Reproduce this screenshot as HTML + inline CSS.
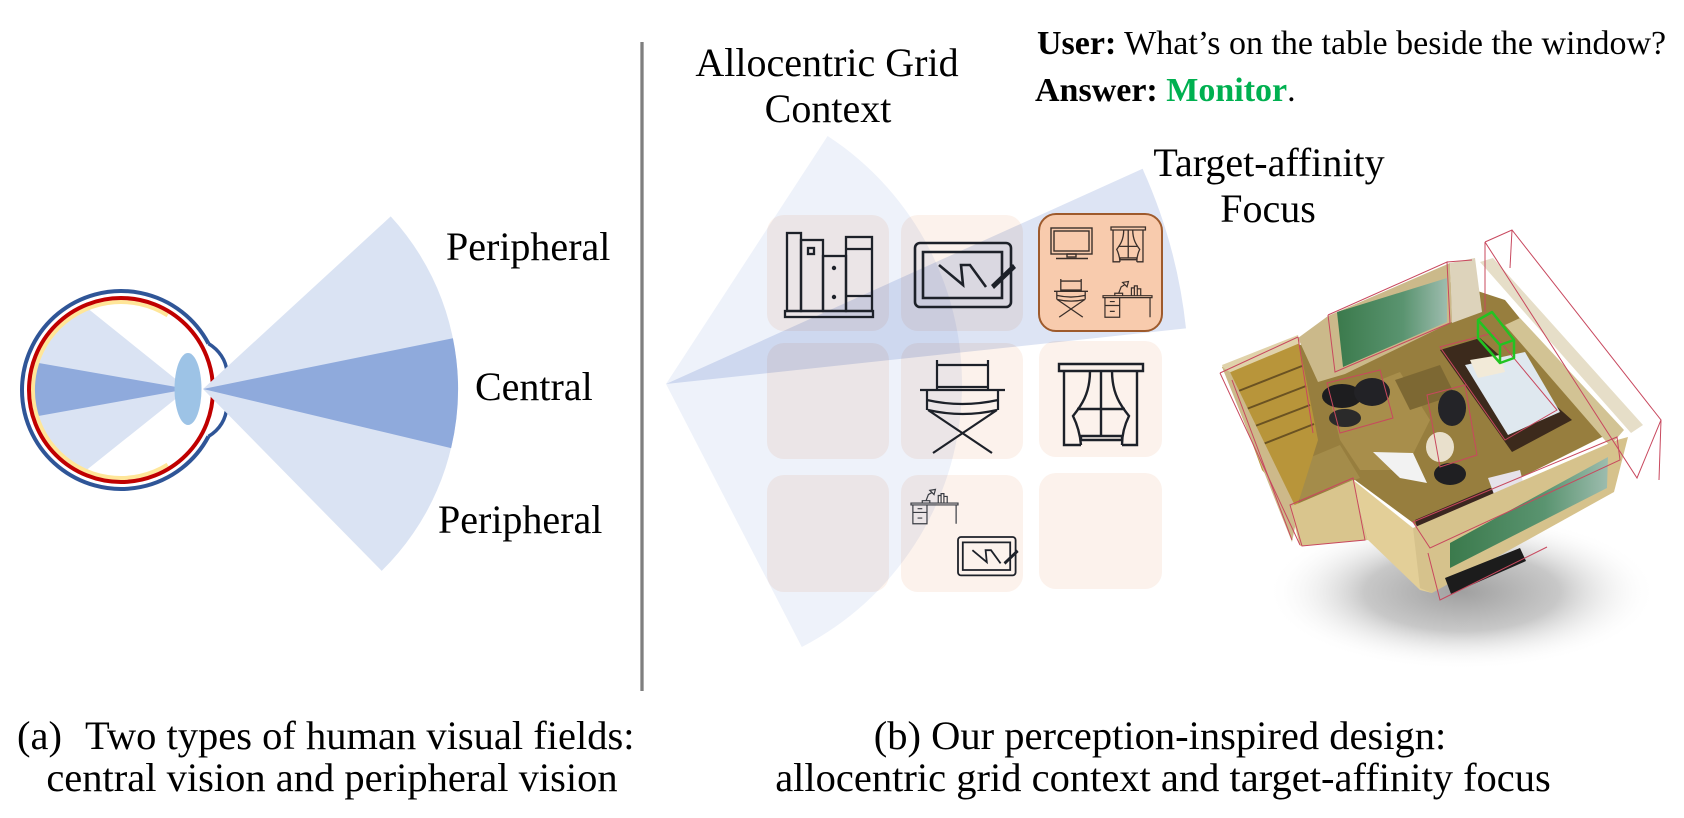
<!DOCTYPE html>
<html><head><meta charset="utf-8"><style>
html,body{margin:0;padding:0;background:#fff;width:1684px;height:818px;overflow:hidden}
svg{display:block}
.mul{mix-blend-mode:multiply}
</style></head><body>
<svg width="1684" height="818" viewBox="0 0 1684 818" xmlns="http://www.w3.org/2000/svg" font-family="'Liberation Serif', 'Times New Roman', serif">
<defs>
  <radialGradient id="sh" cx="0.5" cy="0.5" r="0.5">
    <stop offset="0" stop-color="#a0a0a0"/>
    <stop offset="0.5" stop-color="#c8c8c8"/>
    <stop offset="1" stop-color="#ffffff" stop-opacity="0"/>
  </radialGradient>
  <linearGradient id="gb" x1="0" y1="0" x2="1" y2="0">
    <stop offset="0" stop-color="#3b7a4c"/>
    <stop offset="0.6" stop-color="#5a9470"/>
    <stop offset="1" stop-color="#9dbcae"/>
  </linearGradient>
  <g id="tab">
    <rect x="0" y="0" width="96" height="64" rx="5" vector-effect="non-scaling-stroke"/>
    <rect x="8" y="9" width="79" height="46" vector-effect="non-scaling-stroke"/>
    <polyline points="24,22 48,42 46,22 55,22 71,44" vector-effect="non-scaling-stroke"/>
    <polygon points="76,42 98,21 101,25 79,46" fill="#1d2129" stroke="none"/>
  </g>
  <g id="win">
    <rect x="0" y="0" width="84" height="7" vector-effect="non-scaling-stroke"/>
    <path d="M5,7 V81 H22 M78,7 V81 H63 M42,7 V72 M22,72 H63 V76 H22 Z M18,45 H66" vector-effect="non-scaling-stroke"/>
    <path d="M31,7 C31,30 22,42 14,52 C18,60 21,70 22,81" vector-effect="non-scaling-stroke"/>
    <path d="M53,7 C53,30 62,42 70,52 C66,60 63,70 63,81" vector-effect="non-scaling-stroke"/>
  </g>
  <g id="chair">
    <path d="M17,0 V30 M68,0 V30 M17,5 H68 M17,27 H68 M0,30 H85 M7,30 V50 M78,30 V50 M7,40 Q42,48 78,40 M8,50 Q43,58 77,50 M8,50 L72,93 M77,50 L13,93" vector-effect="non-scaling-stroke"/>
  </g>
  <g id="desk">
    <path d="M0,32 H100 V36 H0 Z M4,36 V76 H34 V36 M4,52 H34 M14,44 H24 M14,64 H24 M96,36 V76" vector-effect="non-scaling-stroke"/>
    <path d="M24,32 V27 H40 V32 M32,27 L37,14 L44,10 M40,5 L52,3 L49,14 Z" vector-effect="non-scaling-stroke"/>
    <path d="M58,32 V16 H64 V32 M64,32 V12 H70 V32 M70,32 V18 H77 V32" vector-effect="non-scaling-stroke"/>
  </g>
</defs>

<!-- ============ (a) Eye ============ -->
<path d="M188,389 L87.8,308.5 A88,88 0 0 0 85.8,470.6 Z" fill="#dae3f3"/>
<path d="M188,389 L37.3,362.8 A88,88 0 0 0 37,416.3 Z" fill="#8faadc"/>
<path d="M167.6,315.4 A88,88 0 1 0 167.6,464.6" fill="none" stroke="#ffe699" stroke-width="4"/>
<circle cx="121" cy="390" r="92" fill="none" stroke="#c00000" stroke-width="4"/>
<path d="M208.4,343.5 A99,99 0 1 0 208.4,436.5" fill="none" stroke="#2f5597" stroke-width="4"/>
<path d="M208.4,343.5 C219,350 226,360 227,372 L227,406 C226,420 219,430 208.4,436.5" fill="none" stroke="#2f5597" stroke-width="3.5"/>
<ellipse cx="188" cy="389" rx="13.5" ry="36" fill="#9dc3e6"/>
<path d="M203,389 L390.7,216.4 A255,255 0 0 1 381.7,570.9 Z" fill="#dae3f3"/>
<path d="M203,389 L452.9,338.2 A255,255 0 0 1 451.1,448.1 Z" fill="#8faadc"/>

<text x="446" y="260" font-size="40" fill="#000">Peripheral</text>
<text x="475" y="400" font-size="40" fill="#000">Central</text>
<text x="438" y="533" font-size="40" fill="#000">Peripheral</text>

<!-- divider -->
<line x1="642" y1="42" x2="642" y2="691" stroke="#7f7f7f" stroke-width="3.3"/>

<!-- ============ (b) Grid ============ -->
<g fill="#fcf2ec">
  <rect x="767" y="215" width="122" height="116" rx="17"/>
  <rect x="901" y="215" width="122" height="116" rx="17"/>
  <rect x="767" y="343" width="122" height="116" rx="17"/>
  <rect x="901" y="343" width="122" height="116" rx="17"/>
  <rect x="1039" y="341" width="123" height="116" rx="17"/>
  <rect x="767" y="475" width="122" height="117" rx="17"/>
  <rect x="901" y="475" width="122" height="117" rx="17"/>
  <rect x="1039" y="473" width="123" height="116" rx="17"/>
</g>
<path class="mul" d="M666,384 L827.6,136 A296,296 0 0 1 801.8,647 Z" fill="#eef2fa"/>
<path class="mul" d="M666,384 L1142.6,168.8 A523,523 0 0 1 1186,328.4 Z" fill="#dde4f4"/>
<rect x="1039" y="214" width="123" height="117" rx="17" fill="#f8cbad" stroke="#9e5a2c" stroke-width="2"/>

<!-- bookshelf -->
<g fill="none" stroke="#1d2129" stroke-width="2.3">
  <rect x="785" y="311" width="88" height="6"/>
  <rect x="787" y="233" width="14" height="78"/>
  <rect x="801" y="240" width="22" height="71"/>
  <rect x="808" y="248" width="6" height="6"/>
  <rect x="823" y="256" width="23" height="55"/>
  <rect x="846" y="237" width="26" height="74"/>
  <line x1="846" y1="249" x2="872" y2="249"/>
  <line x1="846" y1="296" x2="872" y2="296"/>
</g>
<circle cx="834" cy="268" r="2.2" fill="#1d2129"/>
<circle cx="834" cy="297" r="2.2" fill="#1d2129"/>

<!-- icons -->
<use href="#tab" transform="translate(915,243)" fill="none" stroke="#1d2129" stroke-width="2.6"/>
<use href="#chair" transform="translate(920,360)" fill="none" stroke="#1d2129" stroke-width="2.2"/>
<use href="#win" transform="translate(1059,364)" fill="none" stroke="#1d2129" stroke-width="2.4"/>
<use href="#desk" transform="translate(911,488) scale(0.47)" fill="none" stroke="#3a3d44" stroke-width="1.2"/>
<use href="#tab" transform="translate(958,537) scale(0.6)" fill="none" stroke="#1d2129" stroke-width="1.8"/>

<!-- small icons in highlighted tile -->
<g fill="none" stroke="#3a2f2a" stroke-width="1.4">
  <rect x="1051" y="228" width="41" height="26"/>
  <rect x="1054" y="231" width="35" height="20"/>
  <rect x="1067" y="254" width="9" height="3"/>
  <line x1="1056" y1="258.5" x2="1088" y2="258.5"/>
</g>
<use href="#win" transform="translate(1111,227) scale(0.41,0.43)" fill="none" stroke="#3a2f2a" stroke-width="1.3"/>
<use href="#chair" transform="translate(1054,279) scale(0.4,0.41)" fill="none" stroke="#3a2f2a" stroke-width="1.3"/>
<use href="#desk" transform="translate(1103,280) scale(0.49)" fill="none" stroke="#3a2f2a" stroke-width="1.2"/>

<!-- ============ Room ============ -->
<ellipse cx="1462" cy="592" rx="195" ry="78" fill="url(#sh)"/>
<!-- floor -->
<polygon points="1240,378 1300,345 1450,282 1505,300 1612,432 1420,528 1355,480 1292,507 1262,465" fill="#977e3e"/>
<polygon points="1330,400 1400,372 1430,420 1405,470 1360,470 1340,440" fill="#a88e4b"/>
<polygon points="1280,470 1340,445 1360,478 1300,500" fill="#a48c4a"/>
<polygon points="1395,380 1440,365 1455,395 1410,410" fill="#7d6833"/>
<polygon points="1373,452 1413,453 1427,483 1400,478" fill="#f2f2f2"/>
<!-- left wall + bookshelf -->
<polygon points="1222,367 1298,338 1318,440 1296,510 1262,470 1230,382" fill="#b8953a"/>
<g stroke="#6a5222" stroke-width="2">
  <line x1="1236" y1="392" x2="1302" y2="366"/>
  <line x1="1244" y1="410" x2="1306" y2="386"/>
  <line x1="1250" y1="428" x2="1310" y2="405"/>
  <line x1="1258" y1="446" x2="1314" y2="424"/>
</g>
<polygon points="1222,365 1298,335 1300,343 1226,374" fill="#e0d2aa"/>
<polygon points="1222,367 1230,372 1298,512 1292,542" fill="#cdb98a"/>
<!-- back wall -->
<polygon points="1298,338 1328,316 1450,263 1452,322 1345,374 1318,382" fill="#cbb98a"/>
<polygon points="1337,312 1447,278 1447,322 1343,367" fill="url(#gb)"/>
<polygon points="1450,263 1475,258 1482,312 1452,323" fill="#ddd3bb"/>
<!-- dark chairs -->
<ellipse cx="1342" cy="396" rx="20" ry="12" fill="#1d1d1f"/>
<ellipse cx="1372" cy="392" rx="18" ry="14" fill="#222226"/>
<ellipse cx="1345" cy="418" rx="16" ry="9" fill="#2a2a2a"/>
<!-- desk -->
<polygon points="1440,350 1480,338 1572,420 1512,452" fill="#3c2a1c"/>
<polygon points="1465,365 1525,352 1560,412 1508,435" fill="#dfe8ef"/>
<polygon points="1470,360 1500,355 1505,372 1478,378" fill="#f2ead8"/>
<ellipse cx="1452" cy="408" rx="14" ry="18" fill="#242428"/>
<ellipse cx="1440" cy="447" rx="14" ry="15" fill="#e9e0cc"/>
<ellipse cx="1450" cy="474" rx="16" ry="11" fill="#1f1f22"/>
<!-- right wall -->
<polygon points="1505,325 1520,318 1624,430 1610,446" fill="#d2c394"/>
<polygon points="1480,262 1493,258 1643,425 1631,433" fill="#e6dec8"/>
<!-- bottom dark desk -->
<polygon points="1415,520 1490,488 1522,495 1526,510 1450,545 1420,540" fill="#3b2620"/>
<polygon points="1488,478 1520,470 1526,494 1496,500" fill="#e6e2ea"/>
<!-- front-left & notch walls -->
<polygon points="1290,507 1353,480 1368,540 1300,546" fill="#d9c58d"/>
<polygon points="1353,480 1413,528 1432,593 1420,590 1368,540" fill="#e3cf98"/>
<!-- front wall -->
<polygon points="1413,528 1617,440 1628,437 1614,492 1432,593 1420,588" fill="#d6c28c"/>
<polygon points="1450,543 1608,457 1607,488 1450,568" fill="url(#gb)"/>
<polygon points="1445,578 1520,548 1526,561 1451,594" fill="#1c1c1c"/>
<!-- red wireframes -->
<g fill="none" stroke="#c8485e" stroke-width="1">
  <polyline points="1485,242 1512,230 1661,420 1637,478 1485,242"/>
  <line x1="1485" y1="242" x2="1485" y2="312"/>
  <line x1="1512" y1="230" x2="1510" y2="268"/>
  <line x1="1661" y1="420" x2="1659" y2="480"/>
  <polyline points="1328,315 1447,262 1450,323 1335,372 1328,315"/>
  <line x1="1447" y1="262" x2="1472" y2="260"/>
  <line x1="1220" y1="373" x2="1298" y2="337"/>
  <line x1="1220" y1="373" x2="1300" y2="545"/>
  <line x1="1232" y1="380" x2="1292" y2="540"/>
  <line x1="1298" y1="337" x2="1313" y2="433"/>
  <polygon points="1327,383 1380,370 1393,418 1340,433"/>
  <polygon points="1440,347 1493,333 1557,410 1505,440"/>
  <polygon points="1427,395 1465,385 1477,455 1440,467"/>
  <polygon points="1413,522 1617,437 1620,460 1430,548"/>
  <polyline points="1428,553 1440,600 1547,547"/>
  <polygon points="1290,505 1353,478 1365,540 1302,546"/>
</g>
<!-- green target box -->
<g fill="none" stroke="#22c322" stroke-width="2.5" stroke-linejoin="round">
  <polygon points="1478,320 1492,312 1514,340 1514,358 1500,363 1478,338"/>
  <polyline points="1478,320 1500,345 1514,340"/>
  <line x1="1500" y1="345" x2="1500" y2="363"/>
</g>

<!-- ============ Text ============ -->
<text x="827" y="76" text-anchor="middle" font-size="40" fill="#000">Allocentric Grid</text>
<text x="828" y="122" text-anchor="middle" font-size="40" fill="#000">Context</text>
<text x="1037" y="54" font-size="34" fill="#000"><tspan font-weight="bold">User:</tspan> What’s on the table beside the window?</text>
<text x="1035" y="101" font-size="34" fill="#000"><tspan font-weight="bold">Answer:</tspan> <tspan font-weight="bold" fill="#00b050">Monitor</tspan>.</text>
<text x="1269" y="176" text-anchor="middle" font-size="40" fill="#000">Target-affinity</text>
<text x="1268" y="222" text-anchor="middle" font-size="40" fill="#000">Focus</text>

<text x="17" y="749" font-size="40.5" fill="#000">(a)</text>
<text x="85" y="749" font-size="40.5" fill="#000">Two types of human visual fields:</text>
<text x="332" y="791" text-anchor="middle" font-size="40.5" fill="#000">central vision and peripheral vision</text>
<text x="1160" y="749" text-anchor="middle" font-size="40.5" fill="#000">(b) Our perception-inspired design:</text>
<text x="1163" y="791" text-anchor="middle" font-size="40.5" fill="#000">allocentric grid context and target-affinity focus</text>
</svg>
</body></html>
